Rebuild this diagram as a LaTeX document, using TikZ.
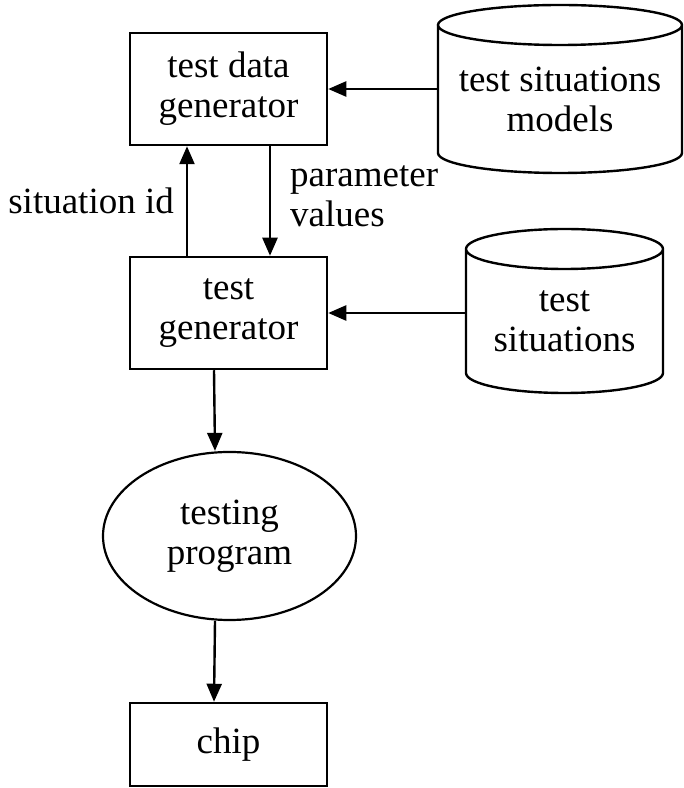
\documentclass[tikz,border=0pt]{standalone}
\usepackage{fontspec}
\setmainfont{Liberation Serif}
\usetikzlibrary{arrows.meta,shapes.geometric}
\newcommand\labelsize{\fontsize{37}{40}\selectfont}
% outline of a data store: node name, x radius, top offset, bottom offset, cap radius
\newcommand\drum[5]{%
  \draw[outline]
    ([shift={(-#2,#3-#5)}]#1.center) -- ([shift={(-#2,-#4+#5)}]#1.center)
    arc[start angle=180, end angle=360, x radius=#2pt, y radius=#5pt]
    -- ([shift={(#2,#3-#5)}]#1.center)
    arc[start angle=0, end angle=180, x radius=#2pt, y radius=#5pt]
    arc[start angle=180, end angle=360, x radius=#2pt, y radius=#5pt];}
\begin{document}
\begin{tikzpicture}[x=1pt, y=1pt,
  every node/.style={font=\labelsize},
  procbox/.style={draw, line width=2.5pt, minimum width=197pt, minimum height=112pt,
    inner sep=0pt, align=center},
  storetext/.style={inner sep=0pt, align=center, minimum width=#1},
  progshape/.style={draw, ellipse, line width=2.2pt, minimum width=253pt,
    minimum height=168pt, inner sep=0pt, align=center},
  arr/.style={line width=2.4pt, -{Triangle[length=18pt, width=15pt]}},
  outline/.style={line width=2.4pt}]
\useasboundingbox (0,0) rectangle (684,788);

% processing steps
\node[procbox] (tdg) at (228.5,699) {test data\\generator};
\node[procbox] (gen) at (228.5,475) {test\\generator};
\node[progshape] (prog) at (229.5,252) {testing\\program};
\node[procbox, minimum height=83pt] (chip) at (228.5,43.5) {chip};

% data stores
\node[storetext=244pt] (models) at (560,689) {test situations\\models};
\node[storetext=197pt] (sits) at (564.5,467) {test\\situations};
\drum{models}{122}{94}{74}{20}
\drum{sits}{98.5}{92}{72}{20}

% flows
\draw[arr] (models.west |- tdg.east) -- (tdg.east);
\draw[arr] (sits.west |- gen.east) -- (gen.east);
\draw[arr] ([xshift=-41.5pt]gen.north) --
  node[left, inner sep=0pt, xshift=-12pt] (sid) {situation id}
  ([xshift=-41.5pt]tdg.south);
\draw[arr] ([xshift=41.5pt]tdg.south) --
  node[right, align=left, inner sep=0pt, xshift=19pt, yshift=5pt] (pv) {parameter\\values}
  ([xshift=41.5pt]gen.north);
\draw[arr] ([xshift=-14.5pt]gen.south) -- ([xshift=-14.5pt]prog.north);
\draw[arr] ([xshift=-14.5pt]prog.south) -- ([xshift=-14.5pt]chip.north);
\end{tikzpicture}
\end{document}
